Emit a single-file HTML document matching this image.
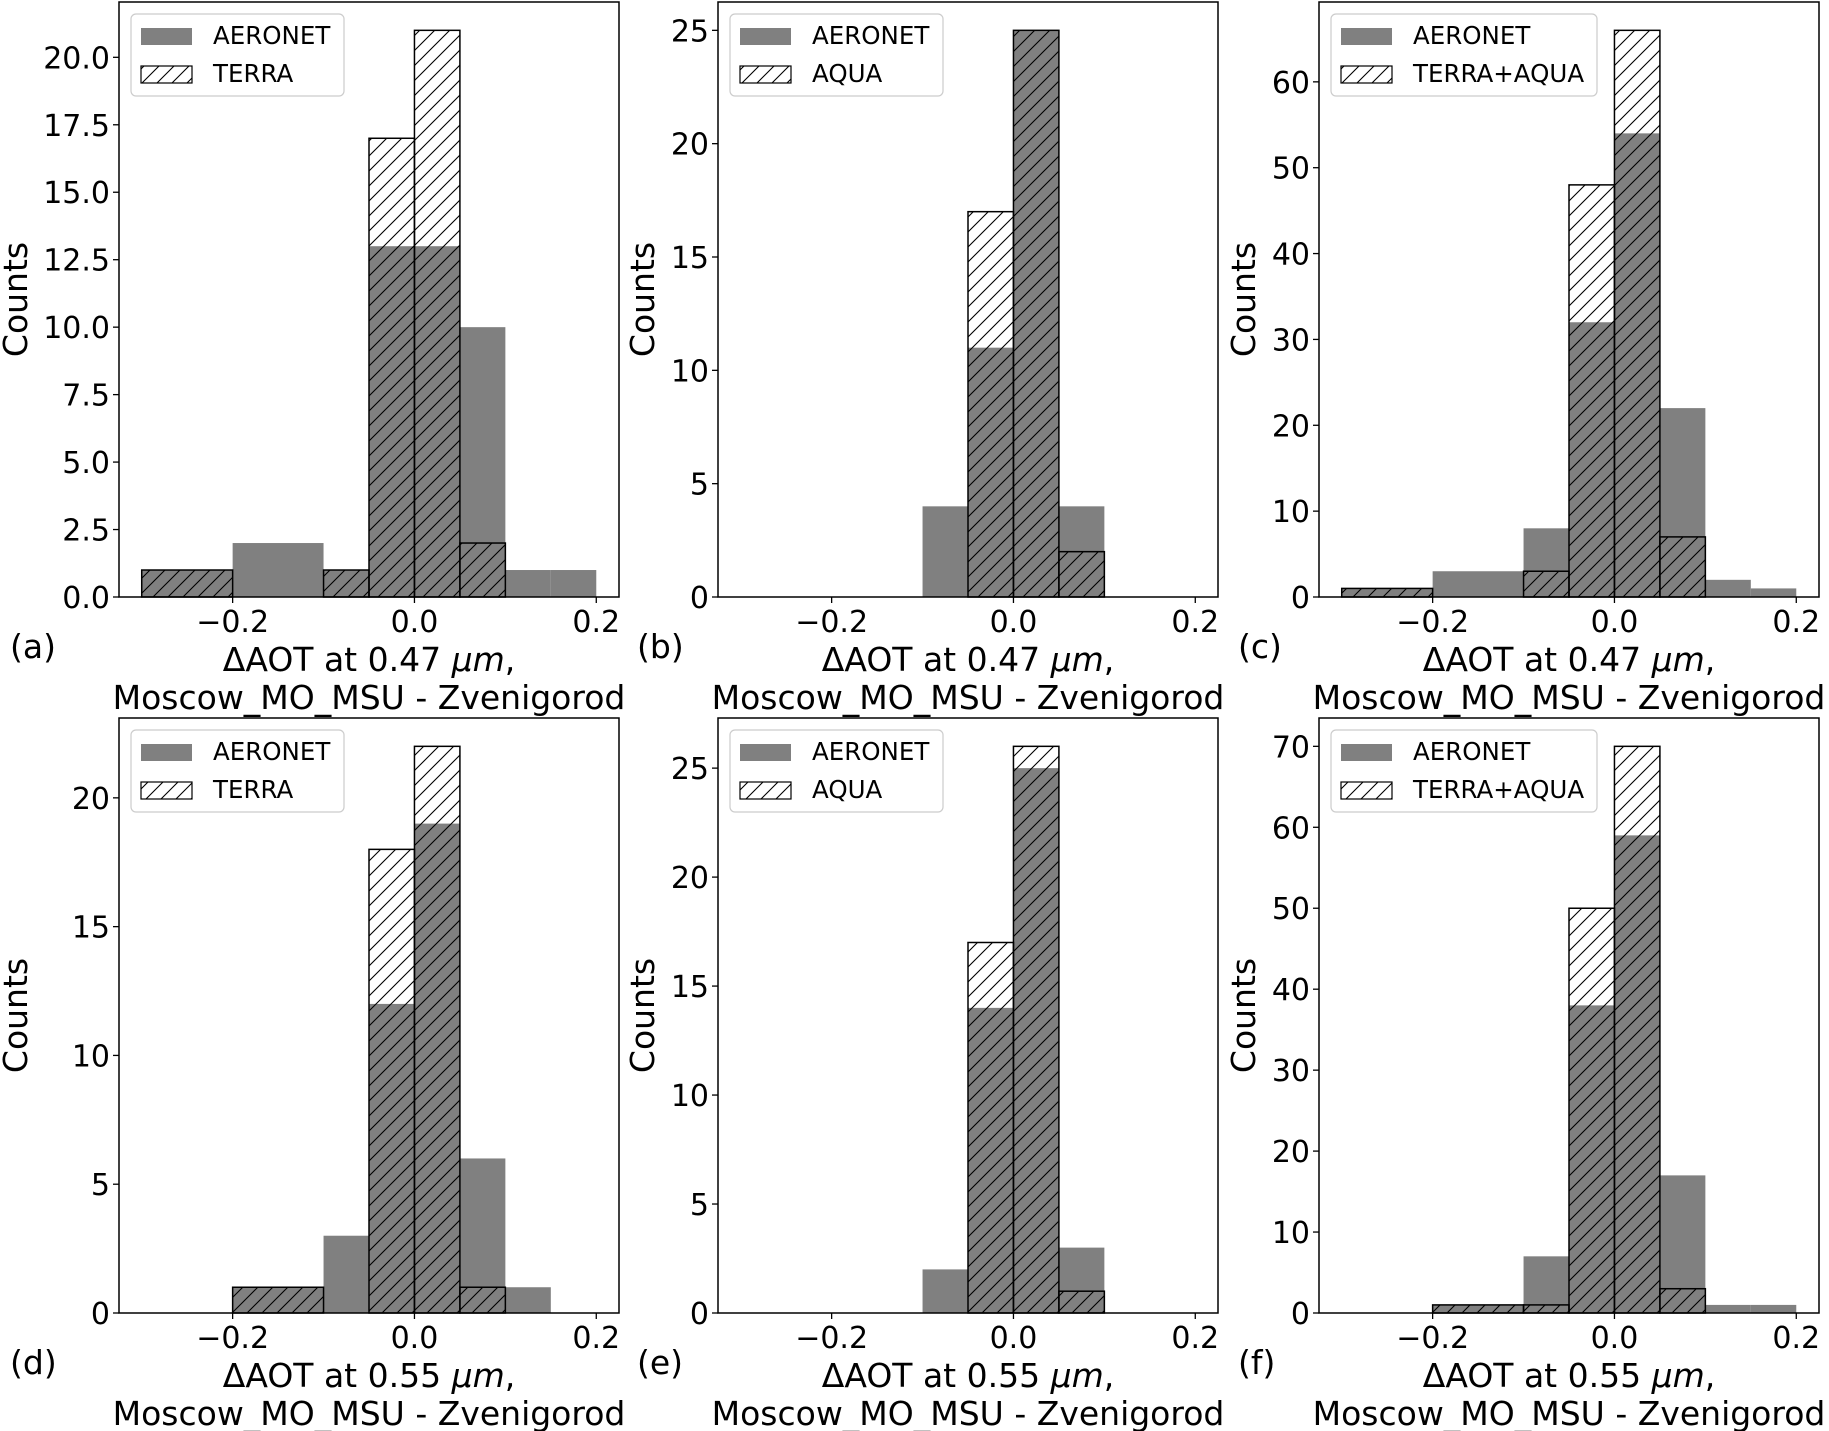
<!DOCTYPE html>
<html><head><meta charset="utf-8">
<style>
html,body{margin:0;padding:0;background:#fff;}
svg{display:block;font-family:"DejaVu Sans","Liberation Sans",sans-serif;}
</style></head>
<body>
<svg id="fig" width="1829" height="1431" viewBox="0 0 1829 1431" xmlns="http://www.w3.org/2000/svg">
<defs>
<pattern id="hatch" patternUnits="userSpaceOnUse" width="15" height="15">
<path d="M-4,4 L4,-4 M0,15 L15,0 M11,19 L19,11" stroke="#000" stroke-width="1.1"/>
</pattern>
</defs>
</svg>
<script>
const binEdges = [-0.3,-0.2,-0.1,-0.05,0,0.05,0.1,0.15,0.2];
const panelLetters = ['a','b','c','d','e','f'];
const satNames = ['TERRA','AQUA','TERRA+AQUA','TERRA','AQUA','TERRA+AQUA'];
const wavelengths = ['0.47','0.47','0.47','0.55','0.55','0.55'];
const aeronetA = [1,2,1,13,13,10,1,1];
const satA     = [1,0,1,17,21,2,0,0];
const aeronetB = [0,0,4,11,25,4,0,0];
const satB     = [0,0,0,17,25,2,0,0];
const aeronetC = [1,3,8,32,54,22,2,1];
const satC     = [1,0,3,48,66,7,0,0];
const aeronetD = [0,1,3,12,19,6,1,0];
const satD     = [0,1,0,18,22,1,0,0];
const aeronetE = [0,0,2,14,25,3,0,0];
const satE     = [0,0,0,17,26,1,0,0];
const aeronetF = [0,1,7,38,59,17,1,1];
const satF     = [0,1,1,50,70,3,0,0];
const yTicksA = [0,2.5,5,7.5,10,12.5,15,17.5,20];
const yTicksB = [0,5,10,15,20,25];
const yTicksC = [0,10,20,30,40,50,60];
const yTicksD = [0,5,10,15,20];
const yTicksE = [0,5,10,15,20,25];
const yTicksF = [0,10,20,30,40,50,60,70];
const xTicks = [-0.2,0,0.2];
const xTickLabels = ['\u22120.2','0.0','0.2'];

const aeronetAll=[aeronetA,aeronetB,aeronetC,aeronetD,aeronetE,aeronetF];
const satAll=[satA,satB,satC,satD,satE,satF];
const yTicksAll=[yTicksA,yTicksB,yTicksC,yTicksD,yTicksE,yTicksF];
const NS='http://www.w3.org/2000/svg';
const svg=document.getElementById('fig');
function mk(tag,attrs,parent,text){const e=document.createElementNS(NS,tag);for(const k in attrs)e.setAttribute(k,attrs[k]);if(text!==undefined)e.textContent=text;(parent||svg).appendChild(e);return e;}
const lefts=[119,718,1319], tops=[2,718], W=500, H=595;
const ylabOff=[104,76,76,104,76,76];
for(let p=0;p<6;p++){
  const L=lefts[p%3], T=tops[Math.floor(p/3)], B=T+H;
  const aer=aeronetAll[p], sat=satAll[p], yt=yTicksAll[p];
  const ymax=Math.max(...aer,...sat)*1.05;
  const X=v=>L+(v-(-0.325))/0.55*W;
  const Y=v=>B-v/ymax*H;
  const g=mk('g',{});
  
  
  for(let i=0;i<aer.length;i++){ if(!aer[i])continue;
    const r=mk('rect',{x:X(binEdges[i]),y:Y(aer[i]),width:X(binEdges[i+1])-X(binEdges[i]),height:B-Y(aer[i]),fill:'#808080'},g);
    
    
  }
  for(let i=0;i<sat.length;i++){ if(!sat[i])continue;
    const r=mk('rect',{x:X(binEdges[i]),y:Y(sat[i]),width:X(binEdges[i+1])-X(binEdges[i]),height:B-Y(sat[i]),fill:'url(#hatch)',stroke:'#000','stroke-width':1.5},g);
    
    
  }
  const fr=mk('rect',{x:L,y:T,width:W,height:H,fill:'none',stroke:'#000','stroke-width':1.5},g);
  
  
  yt.forEach(v=>{const y=Y(v);
    mk('line',{x1:L-6,x2:L,y1:y,y2:y,stroke:'#000','stroke-width':1.3},g);
    const t=mk('text',{x:L-9,y:y+11,'text-anchor':'end','font-size':30},g,p===0?v.toFixed(1):String(v));
    
    
  });
  xTicks.forEach((v,i)=>{const x=X(v);
    mk('line',{x1:x,x2:x,y1:B,y2:B+6,stroke:'#000','stroke-width':1.3},g);
    const t=mk('text',{x:x,y:B+35,'text-anchor':'middle','font-size':30},g,xTickLabels[i]);
    
    
  });
  const yl=mk('text',{x:0,y:0,'text-anchor':'middle','font-size':33,transform:`translate(${L-ylabOff[p]+12},${T+H/2}) rotate(-90)`},g,'Counts');
  
  
  const cx=L+W/2;
  const xl1=mk('text',{x:cx,y:B+74,'text-anchor':'middle','font-size':33},g);
  
  
  mk('tspan',{},xl1,'\u0394AOT at '+wavelengths[p]+' ');
  mk('tspan',{'font-style':'italic'},xl1,'\u00b5m');
  mk('tspan',{},xl1,',');
  const xl2=mk('text',{x:cx,y:B+112,'text-anchor':'middle','font-size':33},g,'Moscow_MO_MSU - Zvenigorod');
  
  
  const pl=mk('text',{x:L-ylabOff[p]-5,y:B+61,'font-size':33},g,'('+panelLetters[p]+')');
  
  
  const lw=satNames[p]==='TERRA+AQUA'?266:213;
  const lg=mk('g',{},g);
  
  
  mk('rect',{x:L+12,y:T+12,width:lw,height:82,rx:5,fill:'#fff',stroke:'#ccc','stroke-width':1.2},lg);
  mk('rect',{x:L+22,y:T+26,width:51,height:17,fill:'#808080'},lg);
  mk('rect',{x:L+22,y:T+64,width:51,height:17,fill:'url(#hatch)',stroke:'#000','stroke-width':1.2},lg);
  const e1=mk('text',{x:L+94,y:T+42,'font-size':24.5},lg,'AERONET');
  
  
  const e2=mk('text',{x:L+94,y:T+80,'font-size':24.5},lg,satNames[p]);
  
  
}
</script>
</body></html>
